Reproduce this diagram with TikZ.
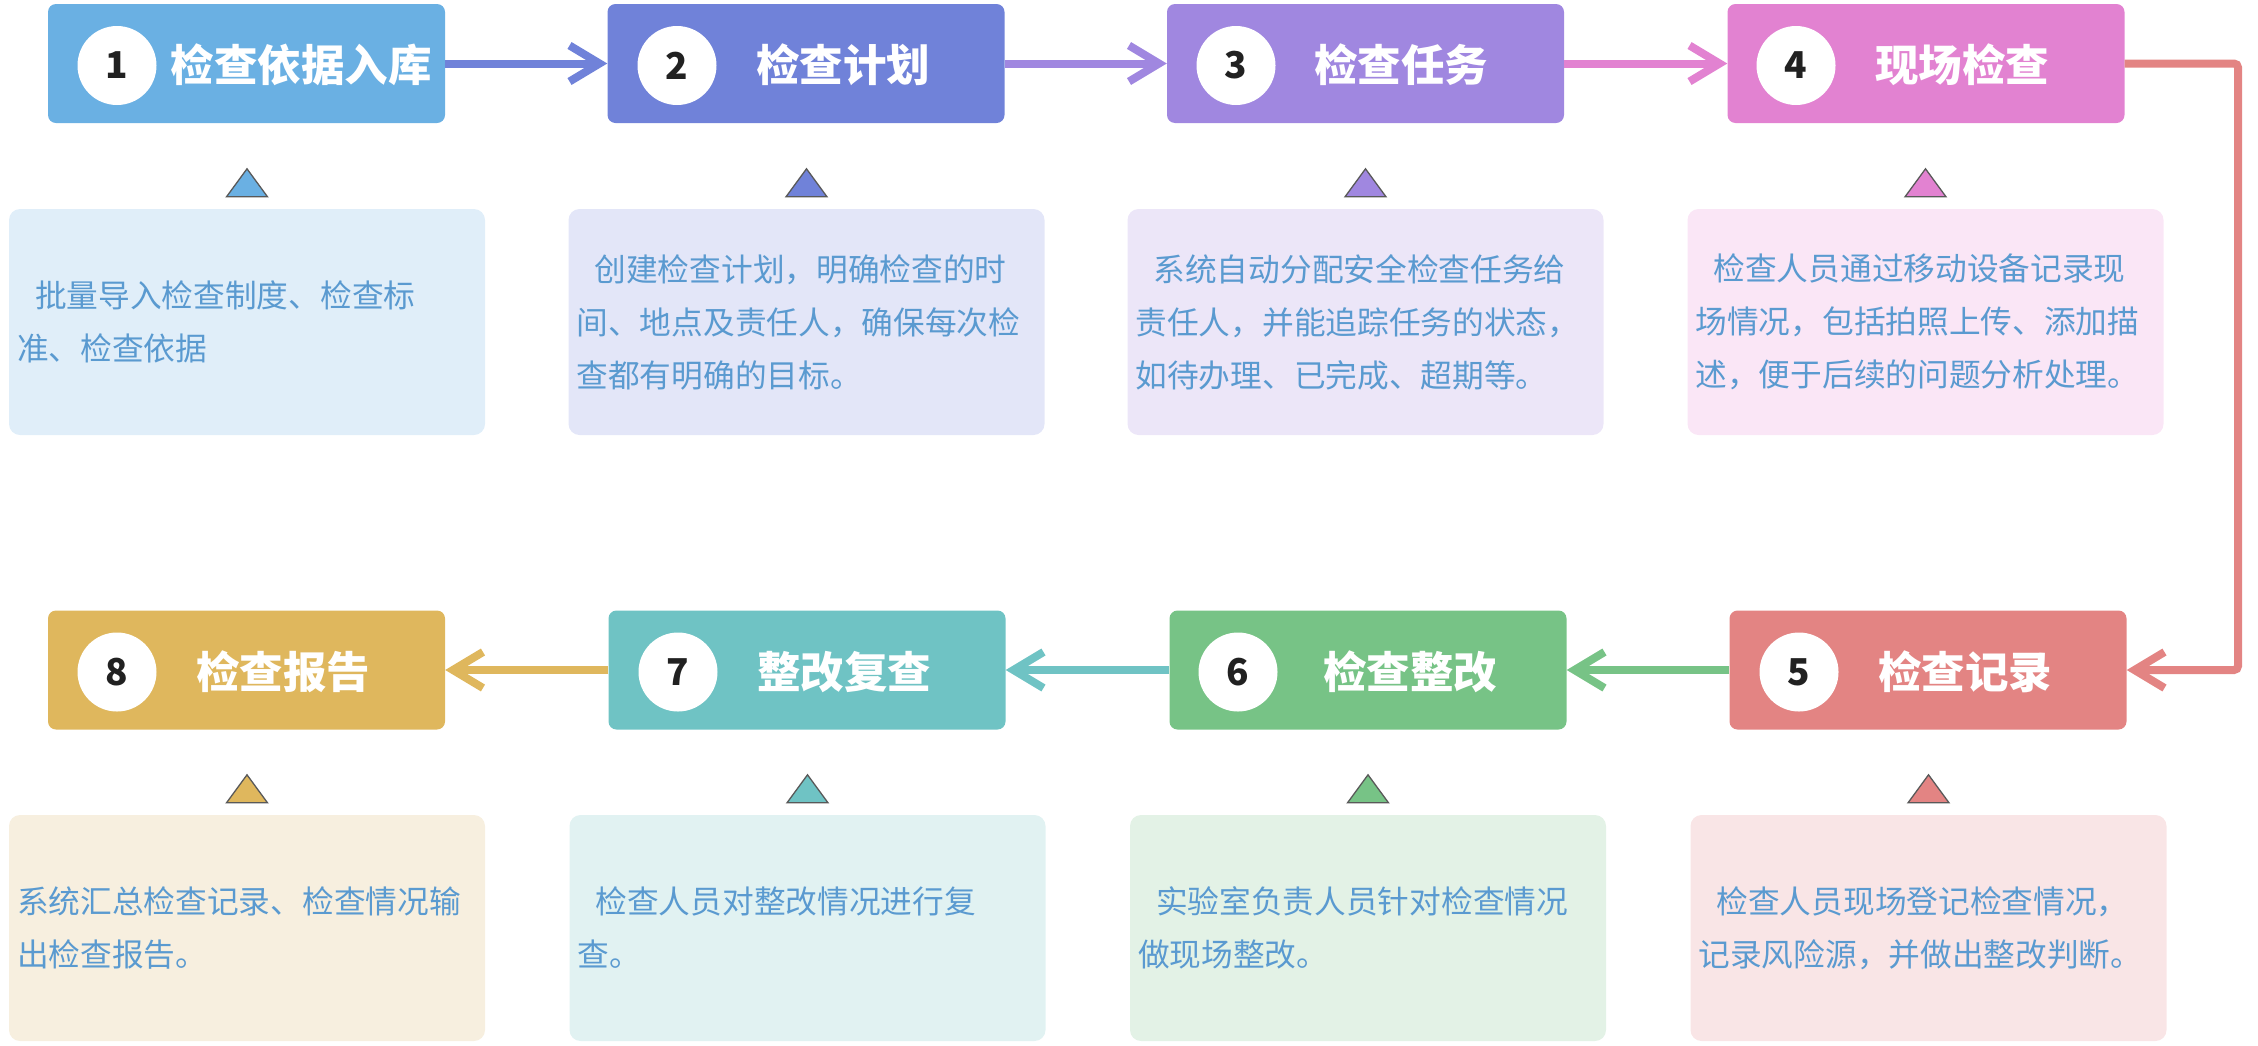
\documentclass[tikz,border=0pt]{standalone}
\usepackage{fontspec}
\setmainfont{Noto Sans CJK SC}
\usetikzlibrary{shapes.geometric,arrows.meta,positioning,calc}

\definecolor{c1}{HTML}{6AB0E3}
\definecolor{c2}{HTML}{7082D9}
\definecolor{c3}{HTML}{A087E0}
\definecolor{c4}{HTML}{E282D1}
\definecolor{c5}{HTML}{E38483}
\definecolor{c6}{HTML}{77C386}
\definecolor{c7}{HTML}{6FC3C4}
\definecolor{c8}{HTML}{DFB75D}
\definecolor{d1}{HTML}{E0EEF9}
\definecolor{d2}{HTML}{E3E6F8}
\definecolor{d3}{HTML}{ECE6F8}
\definecolor{d4}{HTML}{FAE6F6}
\definecolor{d5}{HTML}{F9E5E6}
\definecolor{d6}{HTML}{E3F2E6}
\definecolor{d7}{HTML}{E1F2F2}
\definecolor{d8}{HTML}{F7EFDF}
\definecolor{txtblue}{HTML}{5A9AD0}

\begin{document}
\begin{tikzpicture}[x=1pt, y=-1pt,
  every node/.style={inner sep=0pt},
  hd/.style={rectangle, rounded corners=8pt, minimum width=397pt, minimum height=119pt},
  num/.style={circle, fill=white, minimum size=79pt,
              text=black!87, font=\fontsize{37}{37}\selectfont\bfseries},
  ttl/.style={text=white, font=\fontsize{43.5}{43.5}\selectfont\bfseries},
  tri/.style={draw=black!65, line width=1.3pt, line join=miter},
  dsc/.style={rectangle, rounded corners=11pt, minimum width=476pt, minimum height=226pt},
  txt/.style={anchor=west, align=left, text=txtblue, font=\fontsize{31.7}{53}\selectfont},
  ar/.style={line width=8pt, -{Straight Barb[length=30pt, width=36pt]}}]

\useasboundingbox (0,0) rectangle (2258,1045);

%% --- top row: steps 1-4 ---
\node[hd, fill=c1] (H1) at (246.5,63.5) {};
\node[hd, fill=c2] (H2) at (806,63.5)   {};
\node[hd, fill=c3] (H3) at (1365.5,63.5){};
\node[hd, fill=c4] (H4) at (1926,63.5)  {};
\node[num] (N1) at (117,65.5)  {1};
\node[num] (N2) at (677,65.5)  {2};
\node[num] (N3) at (1236,65.5) {3};
\node[num] (N4) at (1796,65.5) {4};
\node[ttl] (T1) at (301,65)  {检查依据入库};
\node[ttl] (T2) at (843,65)  {检查计划};
\node[ttl] (T3) at (1401,65) {检查任务};
\node[ttl] (T4) at (1962,65) {现场检查};

%% --- bottom row: steps 5-8 ---
\node[hd, fill=c5] (H5) at (1928,670)  {};
\node[hd, fill=c6] (H6) at (1368,670)  {};
\node[hd, fill=c7] (H7) at (807,670)   {};
\node[hd, fill=c8] (H8) at (246.5,670) {};
\node[num] (N5) at (1799,672) {5};
\node[num] (N6) at (1238,672) {6};
\node[num] (N7) at (678,672)  {7};
\node[num] (N8) at (117,672)  {8};
\node[ttl] (T5) at (1965,672) {检查记录};
\node[ttl] (T6) at (1410,672) {检查整改};
\node[ttl] (T7) at (844,672)  {整改复查};
\node[ttl] (T8) at (283,672)  {检查报告};

%% --- description boxes ---
\node[dsc, fill=d1] (D1) at (247,322)    {};
\node[dsc, fill=d2] (D2) at (806.5,322)  {};
\node[dsc, fill=d3] (D3) at (1365.5,322) {};
\node[dsc, fill=d4] (D4) at (1925.5,322) {};
\node[dsc, fill=d5] (D5) at (1928.5,928) {};
\node[dsc, fill=d6] (D6) at (1368,928)   {};
\node[dsc, fill=d7] (D7) at (807.5,928)  {};
\node[dsc, fill=d8] (D8) at (247,928)    {};

\node[txt] (X1) at ([xshift=8pt]D1.west) {\hspace*{18pt}批量导入检查制度、检查标\\准、检查依据};
\node[txt] (X2) at ([xshift=8pt]D2.west) {\hspace*{18pt}创建检查计划，明确检查的时\\间、地点及责任人，确保每次检\\查都有明确的目标。};
\node[txt] (X3) at ([xshift=8pt]D3.west) {\hspace*{18pt}系统自动分配安全检查任务给\\责任人，并能追踪任务的状态，\\如待办理、已完成、超期等。};
\node[txt] (X4) at ([xshift=8pt]D4.west) {\hspace*{18pt}检查人员通过移动设备记录现\\场情况，包括拍照上传、添加描\\述，便于后续的问题分析处理。};
\node[txt] (X5) at ([xshift=8pt]D5.west) {\hspace*{18pt}检查人员现场登记检查情况，\\记录风险源，并做出整改判断。};
\node[txt] (X6) at ([xshift=8pt]D6.west) {\hspace*{18pt}实验室负责人员针对检查情况\\做现场整改。};
\node[txt] (X7) at ([xshift=8pt]D7.west) {\hspace*{18pt}检查人员对整改情况进行复\\查。};
\node[txt] (X8) at ([xshift=8pt]D8.west) {系统汇总检查记录、检查情况输\\出检查报告。};

%% --- small triangles above the descriptions ---
\draw[tri, fill=c1] ([shift={(-20.5,-12)}]D1.north) -- ++(41,0) -- ++(-20.5,-28) -- cycle;
\draw[tri, fill=c2] ([shift={(-20.5,-12)}]D2.north) -- ++(41,0) -- ++(-20.5,-28) -- cycle;
\draw[tri, fill=c3] ([shift={(-20.5,-12)}]D3.north) -- ++(41,0) -- ++(-20.5,-28) -- cycle;
\draw[tri, fill=c4] ([shift={(-20.5,-12)}]D4.north) -- ++(41,0) -- ++(-20.5,-28) -- cycle;
\draw[tri, fill=c5] ([shift={(-20.5,-12)}]D5.north) -- ++(41,0) -- ++(-20.5,-28) -- cycle;
\draw[tri, fill=c6] ([shift={(-20.5,-12)}]D6.north) -- ++(41,0) -- ++(-20.5,-28) -- cycle;
\draw[tri, fill=c7] ([shift={(-20.5,-12)}]D7.north) -- ++(41,0) -- ++(-20.5,-28) -- cycle;
\draw[tri, fill=c8] ([shift={(-20.5,-12)}]D8.north) -- ++(41,0) -- ++(-20.5,-28) -- cycle;

%% --- arrows ---
\coordinate (R) at (2238,63.5);
\draw[ar, draw=c2] (H1) -- (H2);
\draw[ar, draw=c3] (H2) -- (H3);
\draw[ar, draw=c4] (H3) -- (H4);
\draw[ar, draw=c5, rounded corners=4pt] (H4.east) -- (R) |- (H5.east);
\draw[ar, draw=c6] (H5) -- (H6);
\draw[ar, draw=c7] (H6) -- (H7);
\draw[ar, draw=c8] (H7) -- (H8);
\end{tikzpicture}
\end{document}
